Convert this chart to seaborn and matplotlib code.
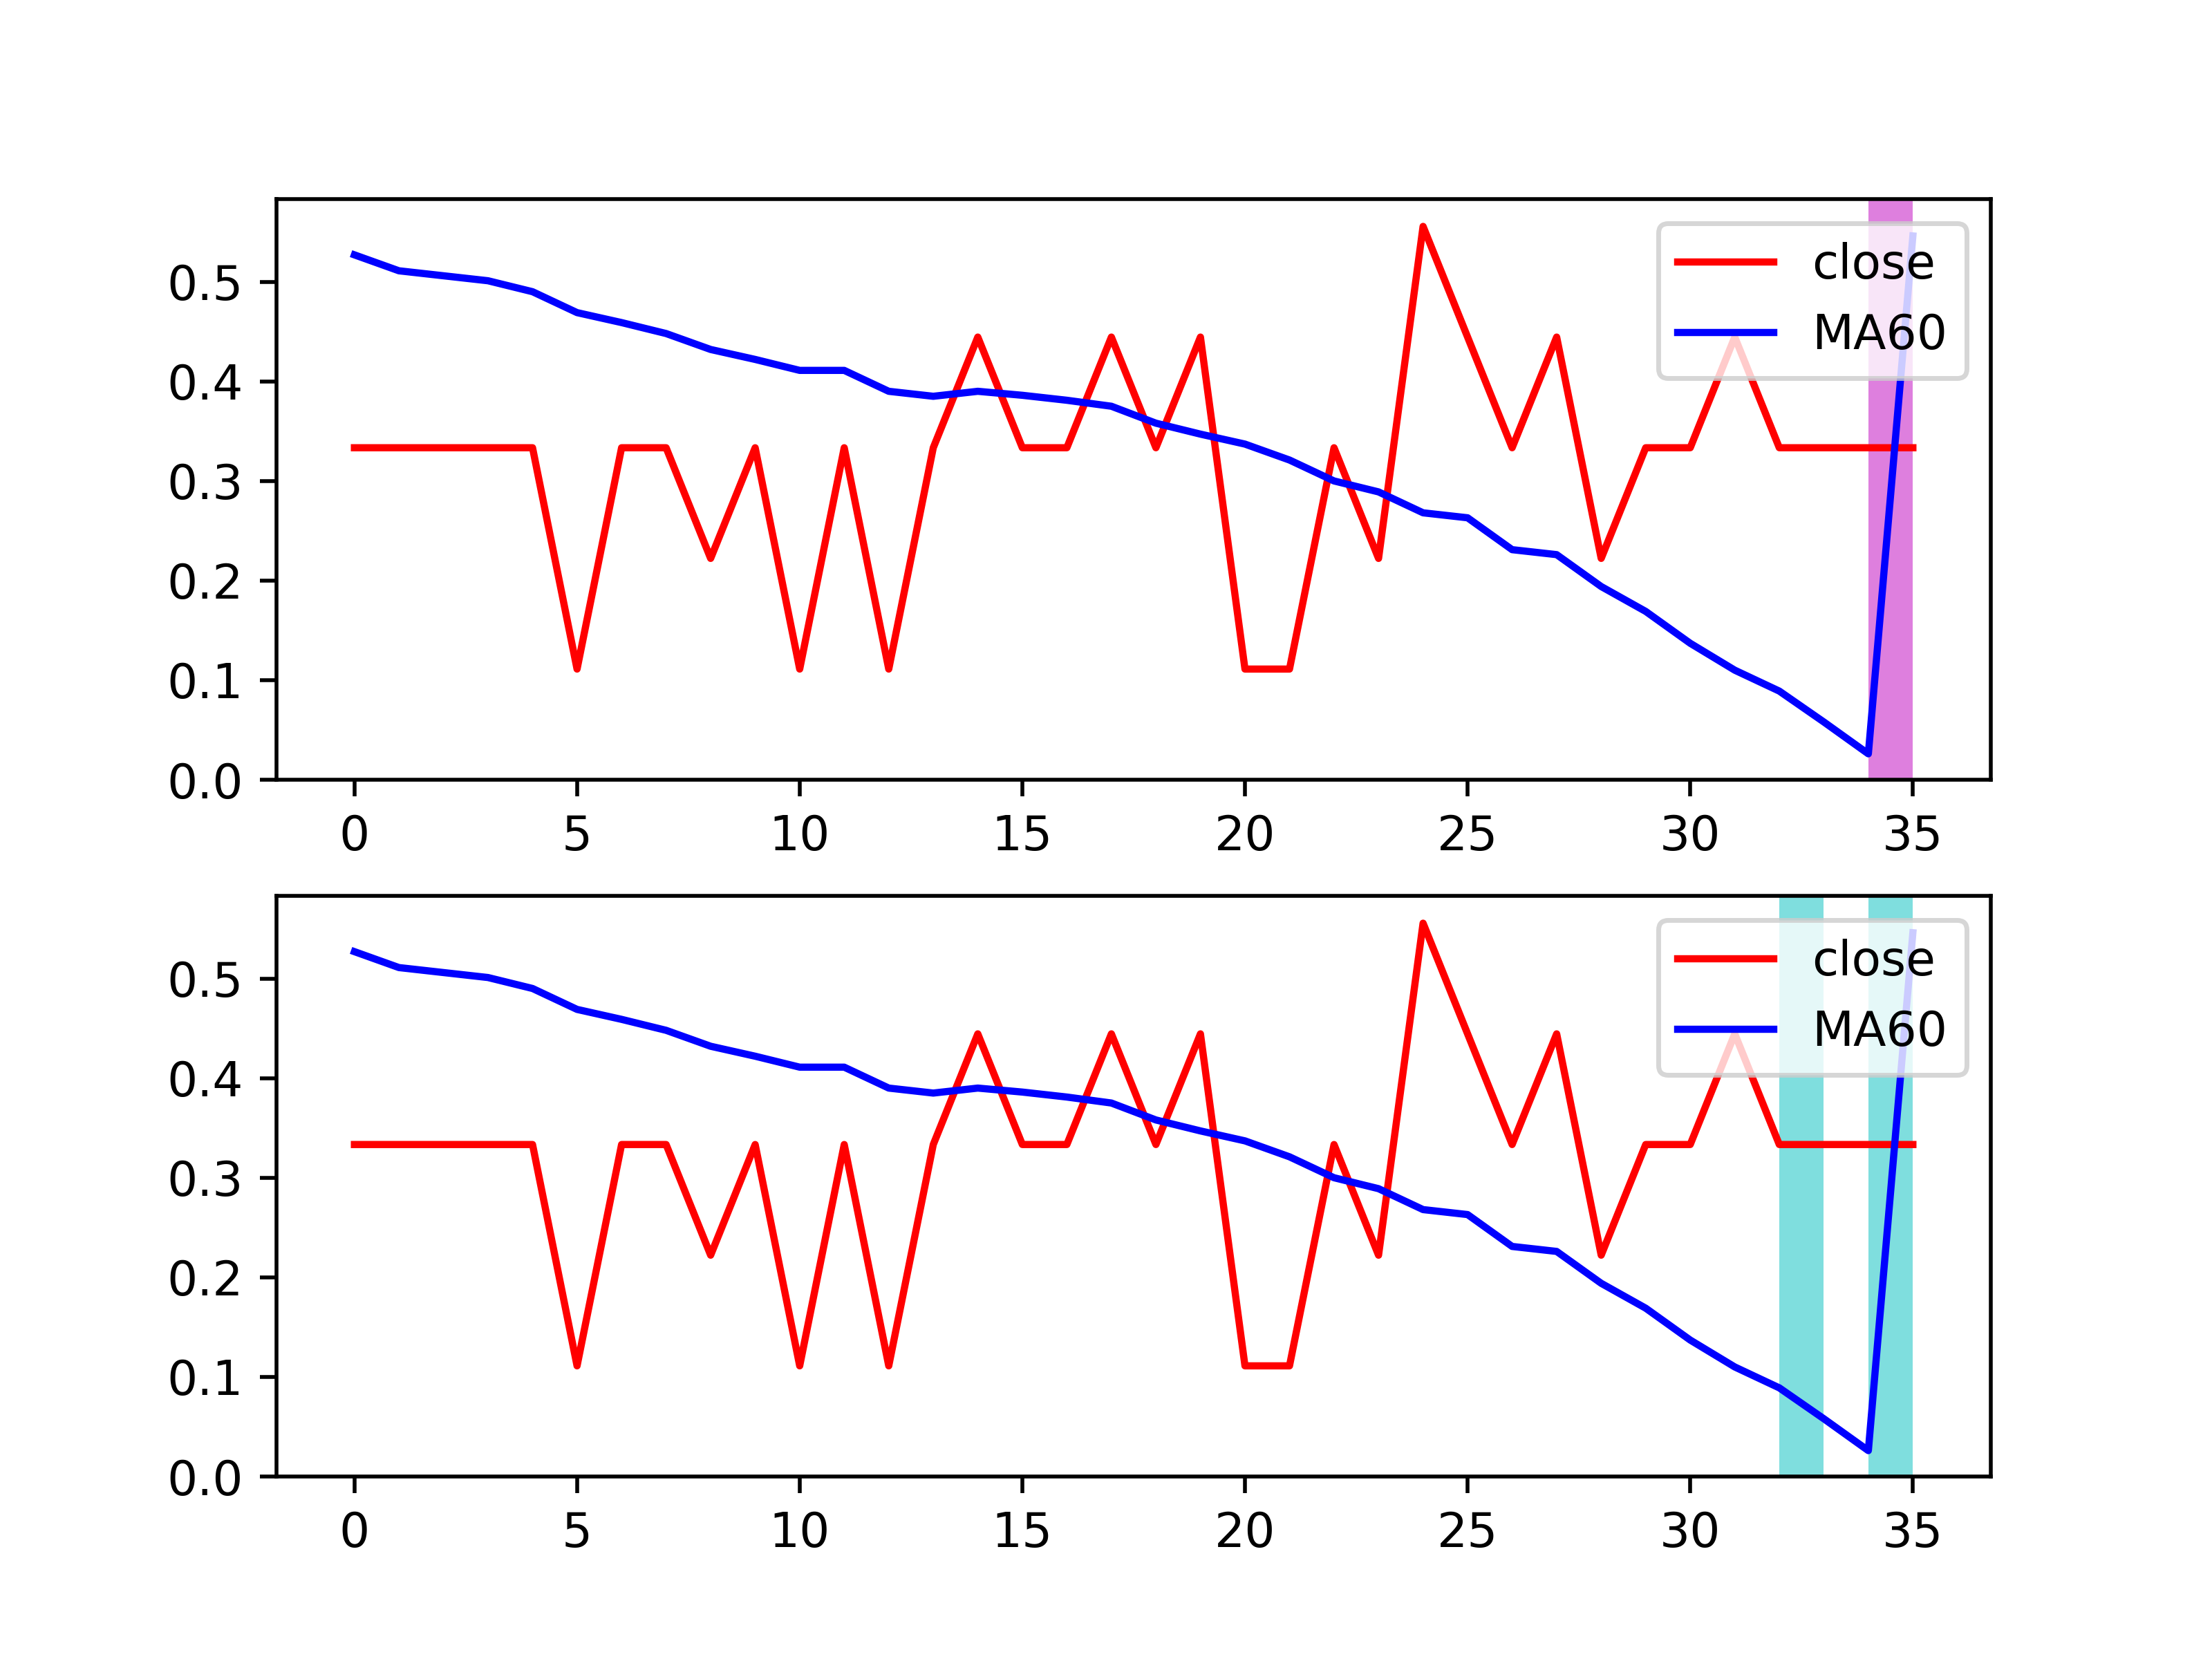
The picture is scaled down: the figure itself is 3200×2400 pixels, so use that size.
import matplotlib
matplotlib.use("Agg")
import matplotlib.pyplot as plt
import seaborn as sns
import numpy as np
import pandas as pd

x = list(range(36))
close = [3/9, 3/9, 3/9, 3/9, 3/9, 1/9, 3/9, 3/9, 2/9, 3/9,
         1/9, 3/9, 1/9, 3/9, 4/9, 3/9, 3/9, 4/9, 3/9, 4/9,
         1/9, 1/9, 3/9, 2/9, 5/9, 4/9, 3/9, 4/9, 2/9, 3/9,
         3/9, 4/9, 3/9, 3/9, 3/9, 3/9]
ma60 = [0.527, 0.511, 0.506, 0.501, 0.490, 0.469, 0.459, 0.448, 0.432, 0.422,
        0.411, 0.411, 0.390, 0.385, 0.390, 0.386, 0.381, 0.375, 0.358, 0.347,
        0.337, 0.321, 0.300, 0.289, 0.268, 0.263, 0.231, 0.226, 0.194, 0.169,
        0.137, 0.110, 0.089, 0.058, 0.026, 0.546]
spans_top = [(34, 35)]
spans_bottom = [(32, 33), (34, 35)]

df = pd.DataFrame({"x": x, "close": close, "MA60": ma60})

fig, axes = plt.subplots(2, 1, figsize=(6.4, 4.8), dpi=500)
for ax, spans, col in [(axes[0], spans_top, "m"), (axes[1], spans_bottom, "c")]:
    for a, b in spans:
        ax.axvspan(a, b, color=col, alpha=0.5, lw=0)
    sns.lineplot(data=df, x="x", y="close", color="red", label="close", ax=ax)
    sns.lineplot(data=df, x="x", y="MA60", color="blue", label="MA60", ax=ax)
    ax.set_xlim(-1.75, 36.75)
    ax.set_ylim(0, 0.583)
    ax.set_xlabel("")
    ax.set_ylabel("")
    ax.legend(loc="upper right")

fig.savefig("out.png", dpi=500)
